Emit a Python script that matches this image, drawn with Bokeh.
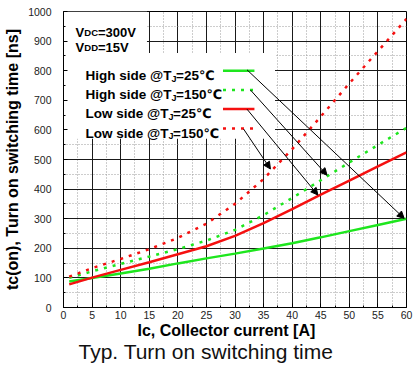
from bokeh.plotting import figure
from bokeh.models import Range1d, FixedTicker, Arrow, NormalHead, Title
from bokeh.embed import file_html
from bokeh.resources import INLINE
from bokeh.core.properties import value

# ---- data ----
ic = [1, 5, 10, 15, 20, 25, 30, 35, 40, 45, 50, 55, 60]
high_25 = [88, 100, 115, 131, 149, 166, 182, 199, 217, 237, 258, 279, 300]
high_150 = [100, 122, 147, 172, 197, 226, 262, 312, 370, 430, 490, 549, 607]
low_25 = [78, 101, 127, 153, 180, 207, 242, 285, 332, 381, 429, 477, 524]
low_150 = [104, 133, 164, 197, 235, 283, 350, 434, 535, 645, 757, 866, 975]

x_ticks = [0, 5, 10, 15, 20, 25, 30, 35, 40, 45, 50, 55, 60]
x_minor = [2.5, 7.5, 12.5, 17.5, 22.5, 27.5, 32.5, 37.5, 42.5, 47.5, 52.5, 57.5]
y_ticks = [0, 100, 200, 300, 400, 500, 600, 700, 800, 900, 1000]
y_minor = [50, 150, 250, 350, 450, 550, 650, 750, 850, 950]

series_names = ["High side @T", "High side @T", "Low side @T", "Low side @T"]
series_temps = ["=25", "=150", "=25", "=150"]
series_colors = ["#1ee61e", "#1ee61e", "#f51010", "#f51010"]
series_dash = ["solid", "3 6", "solid", "3 6"]

# legend / annotation layout (data coordinates of the annotation block)
legend_rows_y = [800, 735, 671, 605]
legend_text_x = 3.85
legend_sample_x0 = 27.9
legend_sample_x1 = 33.4
arrow_x0 = [32.1, 32.7, 32.1, 31.5]
arrow_y0 = [803, 735, 670, 603]
arrow_x1 = [59.6, 46.1, 44.5, 36.2]
arrow_y1 = [301, 447, 380, 468]
box_left = [0, 0]
box_right = [14.6, 37.0]
box_top = [1000, 860]
box_bottom = [860, 570]
cond_x = 2.1
cond_rows_y = [946, 895]

FONT = "Liberation Sans"

p = figure(width=413, height=372, output_backend="svg", toolbar_location=None,
           x_range=Range1d(0, 60), y_range=Range1d(0, 1000),
           min_border_left=63, min_border_right=7, min_border_top=11, min_border_bottom=65)
p.background_fill_color = "white"
p.border_fill_color = "white"
p.outline_line_color = "black"
p.outline_line_width = 1

# grids
p.xgrid.ticker = FixedTicker(ticks=x_ticks, minor_ticks=x_minor)
p.ygrid.ticker = FixedTicker(ticks=y_ticks, minor_ticks=y_minor)
for g in (p.xgrid, p.ygrid):
    g.grid_line_color = "#1a1a1a"
    g.grid_line_width = 1
    g.minor_grid_line_color = "#9a9a9a"
    g.minor_grid_line_dash = "1 2"
    g.minor_grid_line_width = 1

# axes
p.xaxis.ticker = FixedTicker(ticks=x_ticks, minor_ticks=x_minor)
p.yaxis.ticker = FixedTicker(ticks=y_ticks, minor_ticks=y_minor)
for ax in (p.xaxis, p.yaxis):
    ax.major_tick_in = 4
    ax.major_tick_out = 0
    ax.minor_tick_in = 2
    ax.minor_tick_out = 0
    ax.axis_line_color = "black"
    ax.major_tick_line_color = "black"
    ax.minor_tick_line_color = "black"
    ax.major_label_text_font = FONT
    ax.major_label_text_font_size = "10.5px"
    ax.major_label_text_color = "#222222"
p.yaxis.major_label_standoff = 12
p.xaxis.major_label_standoff = 3
p.yaxis.axis_label = "tc(on), Turn on switching time [ns]"
p.yaxis.axis_label_text_font = FONT
p.yaxis.axis_label_text_font_style = "bold"
p.yaxis.axis_label_text_font_size = "16px"
p.yaxis.axis_label_text_color = "black"
p.yaxis.axis_label_standoff = 4

# x-axis label and caption as stacked titles below the axis
p.add_layout(Title(text="Ic, Collector current [A]", align="left", offset=74,
                   standoff=-3, text_font=FONT, text_font_style="bold",
                   text_font_size="16px", text_color="black"), "below")
p.add_layout(Title(text="Typ. Turn on switching time", align="left", offset=15,
                   standoff=1, text_font=FONT, text_font_style="normal",
                   text_font_size="21px", text_color="#111111"), "below")

# white block behind the conditions and legend
p.quad(left=box_left, right=box_right, top=box_top, bottom=box_bottom,
       fill_color="white", line_color=None)

# curves
for ys, c, d in zip([high_25, high_150, low_25, low_150], series_colors, series_dash):
    p.line(ic, ys, line_color=c, line_width=2.5, line_dash=d)

# legend samples
for yy, c, d in zip(legend_rows_y, series_colors, series_dash):
    p.line([legend_sample_x0, legend_sample_x1], [yy, yy], line_color=c, line_width=2.5, line_dash=d)

# arrows
for xs, ys, xe, ye in zip(arrow_x0, arrow_y0, arrow_x1, arrow_y1):
    p.add_layout(Arrow(x_start=xs, y_start=ys, x_end=xe, y_end=ye, line_color="black", line_width=1,
                       end=NormalHead(size=7, fill_color="black", line_color="black")))

# legend texts
name_w = [86.0, 86.0, 83.0, 83.0]
temp_w = [22.5, 30.0, 22.5, 30.0]
for i in range(4):
    p.text(x=[legend_text_x], y=[legend_rows_y[i]], text=[series_names[i]], x_offset=0, y_offset=5,
           text_font=value(FONT), text_font_style="bold", text_font_size="13.5px",
           text_baseline="alphabetic", text_align="left", text_color="black")
    p.text(x=[legend_text_x], y=[legend_rows_y[i]], text=["J"], x_offset=name_w[i], y_offset=8,
           text_font=value(FONT), text_font_style="bold", text_font_size="9px",
           text_baseline="alphabetic", text_align="left", text_color="black")
    p.text(x=[legend_text_x], y=[legend_rows_y[i]], text=[series_temps[i]], x_offset=name_w[i] + 4.5, y_offset=5,
           text_font=value(FONT), text_font_style="bold", text_font_size="13.5px",
           text_baseline="alphabetic", text_align="left", text_color="black")
    p.text(x=[legend_text_x], y=[legend_rows_y[i]], text=["℃"], x_offset=name_w[i] + 5 + temp_w[i], y_offset=5,
           text_font=value("DejaVu Sans"), text_font_style="bold", text_font_size="13px",
           text_baseline="alphabetic", text_align="left", text_color="black")

# conditions
cond_sub = ["DC", "DD"]
cond_val = ["=300V", "=15V"]
for i in range(2):
    p.text(x=[cond_x], y=[cond_rows_y[i]], text=["V"], x_offset=0, y_offset=5,
           text_font=value(FONT), text_font_style="bold", text_font_size="13px",
           text_baseline="alphabetic", text_align="left", text_color="black")
    p.text(x=[cond_x], y=[cond_rows_y[i]], text=[cond_sub[i]], x_offset=8.8, y_offset=5,
           text_font=value(FONT), text_font_style="bold", text_font_size="9.5px",
           text_baseline="alphabetic", text_align="left", text_color="black")
    p.text(x=[cond_x], y=[cond_rows_y[i]], text=[cond_val[i]], x_offset=22.5, y_offset=5,
           text_font=value(FONT), text_font_style="bold", text_font_size="13px",
           text_baseline="alphabetic", text_align="left", text_color="black")

open("out.html", "w").write(file_html(p, INLINE))
